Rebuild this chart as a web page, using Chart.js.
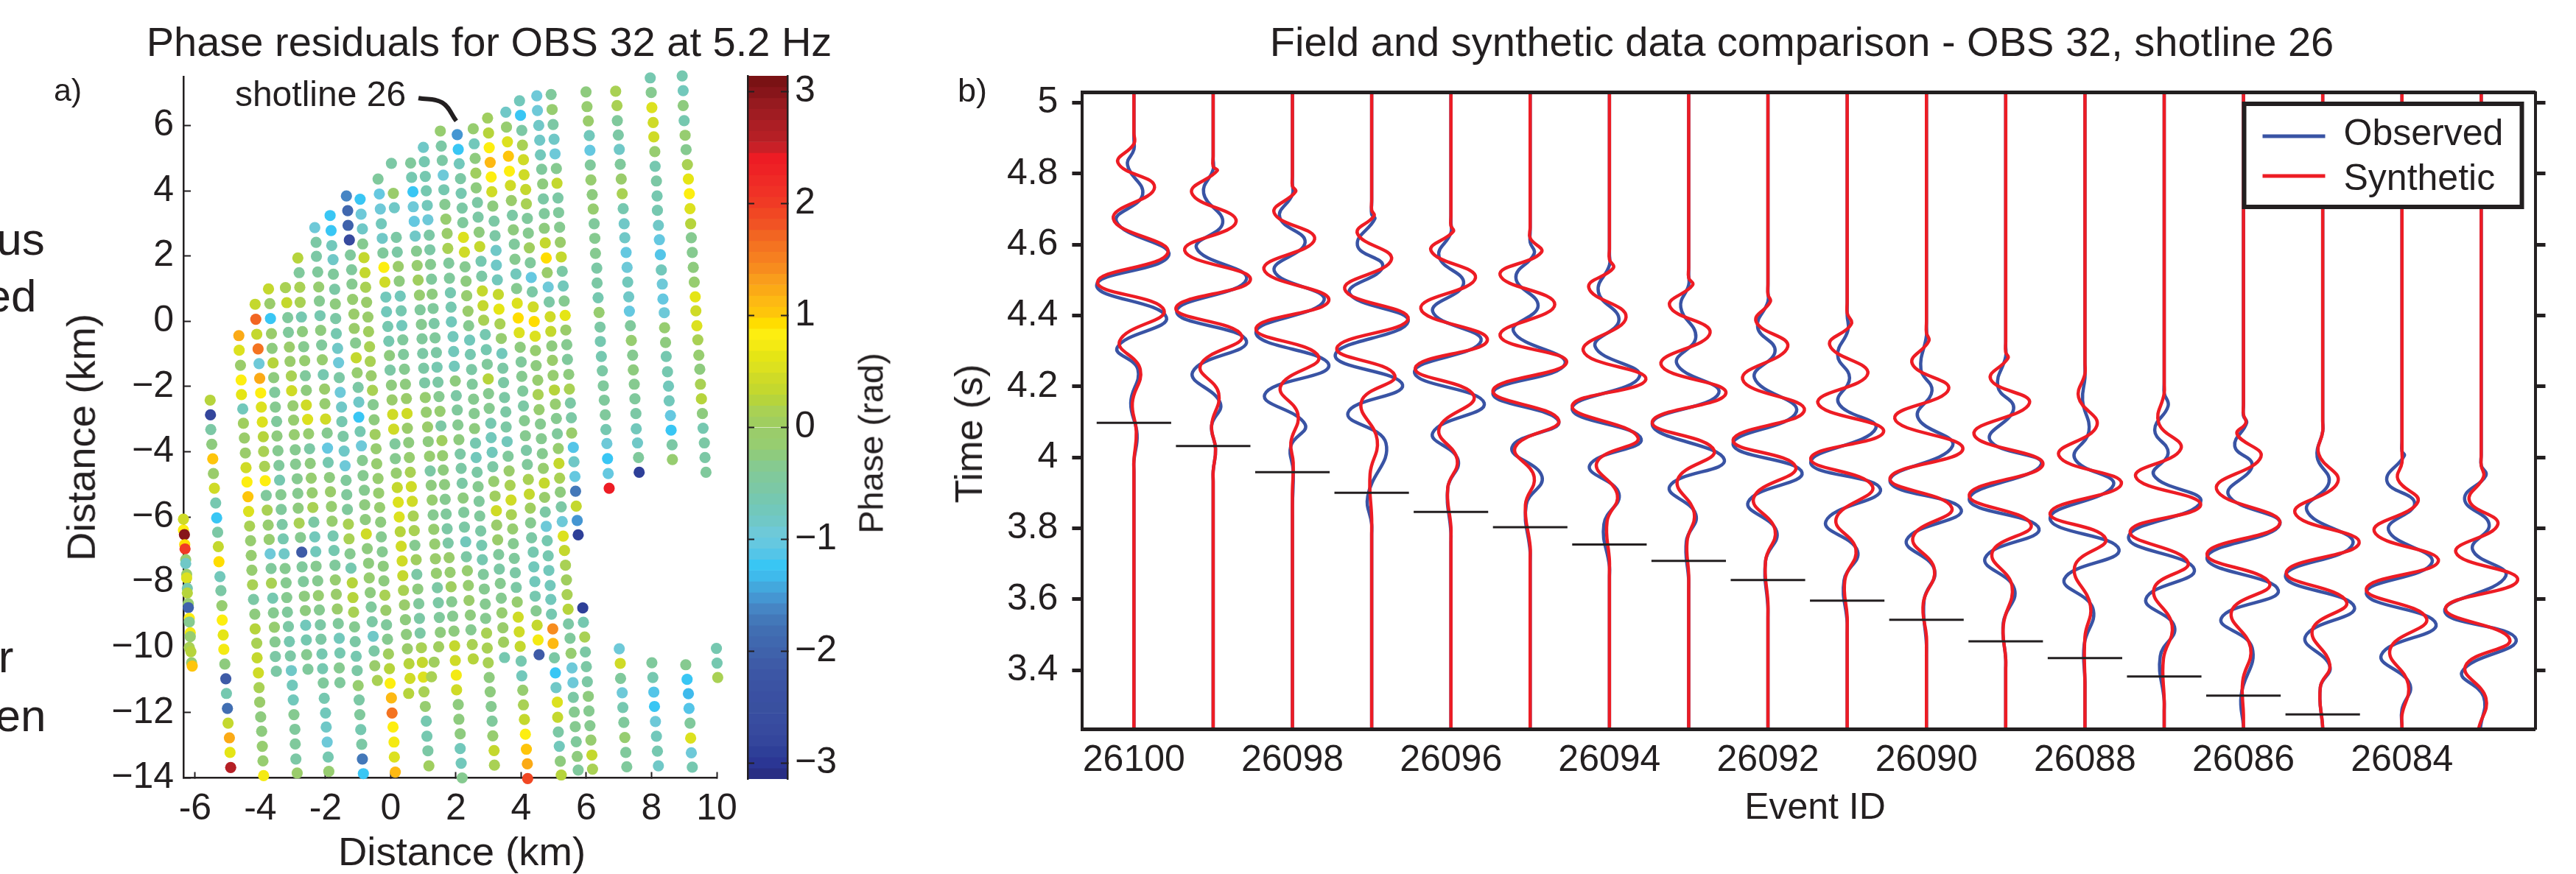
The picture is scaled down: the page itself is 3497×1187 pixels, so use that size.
<!DOCTYPE html>
<html>
<head>
<meta charset="utf-8">
<title>OBS 32 phase residuals</title>
<script src="https://cdn.jsdelivr.net/npm/chart.js@4"></script>
<style>
html, body { margin: 0; padding: 0; background: #fff; overflow: hidden; width: 3497px; height: 1187px; }
canvas { position: absolute; top: 0; }
.txt { position: absolute; font-family: "Liberation Sans", sans-serif; color: #231f20; white-space: nowrap; line-height: 1; }
</style>
</head>
<body>
<canvas id="mapChart" width="1328" height="1187" style="left:0"></canvas>
<canvas id="barChart" width="200" height="1187" style="left:1000px"></canvas>
<canvas id="waveChart" width="2192" height="1187" style="left:1350px"></canvas>
<script>
// panel a: shot points per shotline, [distance x, distance y, phase]
const lineA = [[-6.36,-6.07,.4],[-6.36,-6.40,.85],[-6.33,-6.54,2.95],[-6.32,-6.85,.9],[-6.31,-6.98,2],[-6.29,-7.31,-.1],[-6.29,-7.43,-.85],[-6.26,-7.76,-.05],[-6.26,-7.87,.5],[-6.24,-8.19,-.6],[-6.24,-8.33,.25],[-6.21,-8.66,-.1],[-6.21,-8.78,-2],[-6.18,-9.11,.8],[-6.18,-9.22,-.3],[-6.15,-9.55,.75],[-6.15,-9.67,-.1],[-6.18,-10,.1],[-6.13,-10.13,.25],[-6.11,-10.47,-.15],[-6.09,-10.57,1]];
const lineB = [[-5.54,-2.42,.2],[-5.53,-2.87,-2.75],[-5.52,-3.32,-.5],[-5.49,-3.77,-.25],[-5.46,-4.22,1],[-5.44,-4.67,0],[-5.41,-5.12,.45],[-5.37,-5.57,-.6],[-5.34,-6.03,-1.25],[-5.31,-6.47,-.55],[-5.29,-6.91,.35],[-5.27,-7.37,.95],[-5.24,-7.83,-.7],[-5.21,-8.26,-.5],[-5.18,-8.72,-.1],[-5.17,-9.16,.8],[-5.14,-9.62,.65],[-5.12,-10.06,.75],[-5.09,-10.51,-.2],[-5.06,-10.96,-2.15],[-5.04,-11.41,-.65],[-5.01,-11.87,-1.8],[-4.99,-12.32,.35],[-4.95,-12.77,1.25],[-4.93,-13.22,.65],[-4.91,-13.68,2.6]];
const lineC = [[-4.66,-.44,1.2],[-4.65,-.89,.5],[-4.61,-1.35,0],[-4.59,-1.80,.8],[-4.58,-2.25,.65],[-4.54,-2.69,-.7],[-4.52,-3.13,.05],[-4.49,-3.58,-.05],[-4.46,-4.04,-.05],[-4.44,-4.49,.45],[-4.41,-4.93,.8],[-4.38,-5.38,1.05],[-4.36,-5.83,.55],[-4.33,-6.28,.1],[-4.30,-6.73,-.1],[-4.28,-7.18,-.1],[-4.26,-7.63,-.15],[-4.24,-8.08,.15],[-4.21,-8.53,-.5],[-4.17,-8.98,-.25],[-4.16,-9.43,.25],[-4.11,-9.87,.1],[-4.10,-10.32,.35],[-4.06,-10.78,.4],[-4.04,-11.23,.15],[-4.02,-11.68,-.05],[-3.99,-12.13,-.2],[-3.96,-12.57,-.2],[-3.94,-13.03,-.1],[-3.92,-13.48,-.1],[-3.90,-13.93,.7]];
const lineD = [[-4.16,.52,.3],[-4.14,.06,1.7],[-4.11,-.40,.3],[-4.07,-.85,1.6],[-4.04,-1.30,-.95],[-4.02,-1.75,1.2],[-3.99,-2.20,.8],[-3.97,-2.63,.5],[-3.94,-3.09,.5],[-3.91,-3.54,.25],[-3.90,-3.99,.15],[-3.87,-4.45,.1],[-3.85,-4.89,.8],[-3.82,-5.34,-.45],[-3.79,-5.79,.1],[-3.76,-6.25,-.1],[-3.73,-6.69,-.1],[-3.70,-7.13,-.95],[-3.67,-7.58,-.4],[-3.66,-8.03,.15],[-3.62,-8.49,-.65],[-3.60,-8.94,-.3],[-3.57,-9.38,-.1],[-3.55,-9.83,-.35],[-3.54,-10.28,-.5],[-3.51,-10.73,-.5]];
const lineE = [[-3.75,.99,.3],[-3.71,.54,0],[-3.69,.08,-1.25],[-3.66,-.38,0],[-3.64,-.83,-.2],[-3.61,-1.28,.2],[-3.59,-1.73,-.2],[-3.56,-2.18,-.4],[-3.54,-2.63,-.3],[-3.50,-3.07,-.4],[-3.49,-3.52,-.2],[-3.46,-3.97,-.35],[-3.43,-4.42,-.45],[-3.41,-4.87,-.65],[-3.37,-5.32,-.3],[-3.36,-5.77,-.4],[-3.33,-6.23,-.5],[-3.30,-6.67,-.65],[-3.27,-7.13,-.85],[-3.24,-7.58,-.35],[-3.21,-8.02,-.3],[-3.19,-8.47,-.35],[-3.17,-8.92,-.4],[-3.14,-9.36,-.55],[-3.11,-9.82,-.6],[-3.08,-10.26,-.55],[-3.05,-10.71,-.85],[-3.02,-11.16,-.75],[-2.99,-11.61,-.7],[-2.97,-12.06,-.3],[-2.94,-12.51,-.45],[-2.93,-12.96,-.45],[-2.91,-13.42,-.55],[-2.87,-13.85,0]];
const lineF = [[-3.23,1.03,.1],[-3.19,.57,.3],[-3.16,.11,-.4],[-3.14,-.34,-.4],[-3.11,-.79,0],[-3.09,-1.23,0],[-3.05,-1.68,.1],[-3.04,-2.13,.4],[-3,-2.59,-.1],[-2.98,-3.03,-.1],[-2.96,-3.48,-.15],[-2.93,-3.94,-.35],[-2.92,-4.38,-.35],[-2.87,-4.83,-.3],[-2.85,-5.28,-.3],[-2.84,-5.73,-.25],[-2.81,-6.19,.15],[-2.77,-6.63,-.3],[-2.73,-7.08,-2.1],[-2.72,-7.53,-.45],[-2.68,-7.98,-.45],[-2.65,-8.43,-.2],[-2.62,-8.87,-.25],[-2.61,-9.32,-.7],[-2.59,-9.77,-.6],[-2.58,-10.22,-.35],[-2.54,-10.67,-.45]];
const lineG = [[-2.85,1.94,.2],[-2.81,1.49,-.4],[-2.79,1.04,.15],[-2.78,.58,.1],[-2.74,.13,-.65],[-2.71,-.32,-.25],[-2.67,-.78,-.3],[-2.64,-1.21,-.1],[-2.62,-1.67,-.4],[-2.59,-2.12,-.2],[-2.59,-2.57,.45],[-2.55,-3.01,.5],[-2.52,-3.45,-.1],[-2.49,-3.91,-.5],[-2.47,-4.36,-.2],[-2.44,-4.81,-.1],[-2.41,-5.26,-.1],[-2.39,-5.71,.1],[-2.36,-6.16,-.5],[-2.33,-6.61,-.7],[-2.30,-7.06,-.7],[-2.29,-7.51,-.35],[-2.24,-7.96,-.3],[-2.22,-8.41,-.15],[-2.19,-8.85,-.35],[-2.16,-9.31,-.55],[-2.14,-9.75,-.55],[-2.11,-10.20,-.65],[-2.09,-10.65,-.65],[-2.07,-11.09,-.45],[-2.04,-11.56,-.65],[-2,-12.01,-.7],[-1.98,-12.44,-.8],[-1.95,-12.90,-.95],[-1.92,-13.36,-.65],[-1.90,-13.80,-.15]];
const lineH = [[-2.33,2.87,-.95],[-2.29,2.42,-.5],[-2.28,1.99,-.5],[-2.24,1.51,-.4],[-2.21,1.05,-.1],[-2.19,.62,-.35],[-2.17,.17,-.6],[-2.15,-.28,-.2],[-2.12,-.73,-.45],[-2.10,-1.18,-.1],[-2.07,-1.64,-.65],[-2.03,-2.08,-.05],[-2.02,-2.53,-.15],[-2,-3,.45],[-1.95,-3.43,-.3],[-1.94,-3.89,-1.05],[-1.92,-4.33,-.65],[-1.88,-4.79,-.2],[-1.85,-5.23,-.05],[-1.82,-5.68,-.15],[-1.80,-6.13,-.1],[-1.77,-6.58,-.6],[-1.74,-7.03,-.6],[-1.71,-7.48,-.45],[-1.70,-7.93,-.1],[-1.67,-8.37,-.05],[-1.64,-8.82,-.05],[-1.61,-9.27,-.4],[-1.58,-9.72,-.75],[-1.56,-10.17,-.65],[-1.58,-10.63,-.35],[-1.56,-11.08,-.45]];
const lineI = [[-1.86,3.24,-1.25],[-1.83,2.78,-1.25],[-1.81,2.32,-.7],[-1.77,1.89,-.8],[-1.76,1.44,-.4],[-1.72,.98,-.55],[-1.70,.53,-.25],[-1.69,.08,-.55],[-1.67,-.38,-.6],[-1.63,-.83,-.8],[-1.60,-1.27,-.95],[-1.58,-1.73,-.5],[-1.55,-2.18,-.9],[-1.51,-2.63,-.85],[-1.50,-3.08,-.6],[-1.46,-3.53,-.5],[-1.43,-3.98,-.85],[-1.40,-4.43,-.95],[-1.37,-4.88,-.45],[-1.35,-5.32,-.45],[-1.33,-5.77,-.45],[-1.30,-6.22,.15],[-1.28,-6.67,.1],[-1.25,-7.13,-.35],[-1.22,-7.57,-.6],[-1.18,-8.02,.25],[-1.16,-8.47,.25],[-1.14,-8.92,.1],[-1.11,-9.37,-.35],[-1.09,-9.82,-.55],[-1.06,-10.27,-.65],[-1.03,-10.71,-.5],[-1,-11.17,-.1],[-.97,-11.61,-.55],[-.95,-12.06,-.45],[-.92,-12.52,-.6],[-.89,-12.97,-.55],[-.87,-13.42,-1.7],[-.84,-13.87,-1.25]];
const lineJ = [[-1.36,3.84,-1.6],[-1.32,3.39,-1.9],[-1.31,2.94,-2],[-1.27,2.49,-2.7],[-1.24,2.03,-.45],[-1.20,1.58,-.45],[-1.19,1.14,-.35],[-1.17,.67,-.1],[-1.13,.22,-.05],[-1.12,-.22,-.05],[-1.08,-.67,-.3],[-1.06,-1.12,.3],[-1.03,-1.58,-.1],[-1,-2.03,-.55],[-.98,-2.48,-.8],[-.98,-2.94,-1.2],[-.94,-3.38,-.65],[-.90,-3.82,-.9],[-.87,-4.27,-.35],[-.85,-4.73,-.35],[-.81,-5.18,-.35],[-.80,-5.63,-.2],[-.78,-6.08,-.2],[-.75,-6.52,.45],[-.72,-6.97,-.2],[-.68,-7.42,-.2],[-.66,-7.87,-.15],[-.63,-8.32,-.2],[-.60,-8.76,-.45],[-.57,-9.21,-.55],[-.54,-9.66,-.8],[-.51,-10.11,-.55],[-.49,-10.56,-.05],[-.41,-11.01,.1]];
const lineK = [[-.94,3.74,-1.25],[-.91,3.28,-.9],[-.87,2.83,-.8],[-.86,2.37,-.35],[-.82,1.95,.3],[-.79,1.49,.3],[-.77,1.04,.1],[-.74,.58,-.05],[-.70,.13,-.05],[-.68,-.32,.05],[-.65,-.78,.15],[-.63,-1.23,.1],[-.60,-1.67,-.05],[-.56,-2.12,.1],[-.54,-2.56,-.3],[-.51,-3.02,-.2],[-.48,-3.47,.05],[-.45,-3.91,-.1],[-.43,-4.37,-.15],[-.39,-4.82,-.15],[-.37,-5.27,-.15],[-.34,-5.71,-.1],[-.31,-6.16,-.2],[-.29,-6.61,-.3],[-.26,-7.07,-.35],[-.23,-7.51,-.25],[-.21,-7.96,-.2],[-.18,-8.40,.1],[-.15,-8.86,-.05],[-.13,-9.31,-.4],[-.10,-9.75,-.3],[-.07,-10.20,.05],[-.04,-10.65,.25],[-.02,-11.10,.85],[.02,-11.55,1.1],[.04,-12.01,1.6],[.07,-12.44,.85],[.10,-12.90,.7],[.11,-13.36,.5],[.14,-13.82,1.15]];
const lineL = [[-.39,4.36,-.4],[-.35,3.90,-1],[-.32,3.44,-.95],[-.29,2.99,-.7],[-.26,2.54,-.85],[-.24,2.09,-.4],[-.21,1.65,.8],[-.18,1.20,.45],[-.15,.74,-.7],[-.13,.29,-.7],[-.09,-.16,-.65],[-.06,-.61,-.6],[-.04,-1.05,-.2],[-.02,-1.50,-.5],[.02,-1.96,-.25],[.04,-2.41,0],[.06,-2.86,.45],[.09,-3.31,.4],[.13,-3.76,-.4],[.14,-4.21,-.3],[.17,-4.66,-.1],[.20,-5.10,.3],[.23,-5.55,.5],[.26,-6,.5],[.29,-6.45,.2],[.32,-6.90,.45],[.35,-7.35,.45],[.37,-7.80,.35],[.39,-8.25,.1],[.42,-8.70,0],[.45,-9.15,-.2],[.48,-9.60,-.25],[.51,-10.04,0],[.56,-10.50,.25],[.59,-10.95,.4],[.55,-11.41,.2]];
const lineM = [[.02,4.84,-.5],[.08,3.92,-.05],[.11,3.48,-.8],[.17,2.57,-.5],[.20,2.12,-.5],[.23,1.68,0],[.26,1.23,-.25],[.29,.77,-.7],[.32,.32,-.65],[.34,-.13,-.7],[.37,-.57,-.45],[.39,-1.02,-.45],[.42,-1.47,-.35],[.45,-1.93,-.25],[.48,-2.37,0],[.50,-2.83,.45],[.51,-3.28,0],[.55,-3.72,-.25],[.57,-4.18,-.1],[.60,-4.63,.1],[.63,-5.07,.4],[.66,-5.52,.4],[.69,-5.97,.15],[.72,-6.42,.1],[.74,-6.87,-.3],[.78,-7.31,.05],[.80,-7.76,-.5],[.83,-8.21,-.2],[.86,-8.66,-.4],[.88,-9.11,-.5],[.90,-9.56,-.5],[.94,-10.01,.1],[.97,-10.46,.3],[1,-10.91,.5],[1.02,-11.36,.1],[1.06,-11.81,-.15],[1.09,-12.26,-.6],[1.11,-12.72,-.6],[1.14,-13.17,-.55],[1.17,-13.63,.05]];
const lineN = [[.61,4.85,-.4],[.64,4.41,-.6],[.68,3.97,-1.25],[.69,3.51,-.9],[.72,3.06,-1.05],[.75,2.61,-.85],[.79,2.15,-.35],[.81,1.71,-.15],[.84,1.26,.05],[.88,.80,-.1],[.90,.35,-.45],[.94,-.10,-.35],[.96,-.54,-.4],[.98,-.99,-.5],[1.01,-1.44,-.55],[1.04,-1.89,-.55],[1.06,-2.34,-.15],[1.09,-2.79,-.1],[1.13,-3.24,-.05],[1.15,-3.69,-.25],[1.19,-4.14,-.1],[1.21,-4.59,-.5],[1.24,-5.03,-.2],[1.27,-5.48,-.15],[1.30,-5.94,-.35],[1.32,-6.38,-.15],[1.35,-6.83,-.1],[1.37,-7.28,-.05],[1.40,-7.73,-.1],[1.43,-8.17,-.5],[1.46,-8.63,-.55],[1.49,-9.08,-.4],[1.52,-9.54,-.2],[1.47,-9.98,.05],[1.33,-10.45,.05],[1.25,-10.90,.1]];
const lineO = [[1,5.33,-.85],[1.03,4.89,-.6],[1.06,4.44,-.6],[1.09,4,-.6],[1.12,3.55,-.75],[1.14,3.11,-.9],[1.18,2.64,-.55],[1.20,2.19,-.5],[1.22,1.74,-.3],[1.25,1.29,-.4],[1.27,.83,-.2],[1.30,.39,-.45],[1.33,-.07,-.55],[1.36,-.51,-.45],[1.40,-.96,-.5],[1.42,-1.41,-.65],[1.45,-1.87,-.55],[1.48,-2.31,-.3],[1.51,-2.76,-.15],[1.54,-3.21,-.5],[1.57,-3.66,.05],[1.59,-4.12,-.15],[1.61,-4.56,-.25],[1.65,-5.01,-.25],[1.67,-5.46,-.3],[1.70,-5.91,-.45],[1.73,-6.36,-.5],[1.76,-6.80,-.55],[1.79,-7.25,-.05],[1.82,-7.70,-.1],[1.85,-8.14,.05],[1.87,-8.60,-.3],[1.90,-9.04,-.35],[1.94,-9.50,-.2],[1.96,-9.95,.35],[1.98,-10.40,.45],[2.01,-10.85,.75],[2.02,-11.30,.45],[2.07,-11.75,-.2],[2.09,-12.20,-.2],[2.13,-12.65,-.2],[2.13,-13.10,-.7],[2.16,-13.55,-.75],[2.19,-14,-.3]];
const lineP = [[1.52,5.83,-.1],[1.55,5.37,-.5],[1.58,4.93,-.55],[1.61,4.48,-.95],[1.63,4.03,-.65],[1.66,3.58,-.3],[1.69,3.13,-.1],[1.73,2.69,-.05],[1.75,2.23,.1],[1.78,1.78,-.4],[1.80,1.32,-.45],[1.83,.87,-.6],[1.85,.43,-.65],[1.86,-.02,-.7],[1.91,-.47,-.75],[1.93,-.93,-.75],[1.95,-1.38,-.7],[1.98,-1.83,-.2],[2.01,-2.28,-.5],[2.04,-2.72,-.45],[2.06,-3.18,-.35],[2.09,-3.63,-.2],[2.13,-4.07,-.55],[2.16,-4.51,-.55],[2.19,-4.97,-.5],[2.22,-5.42,-.25],[2.24,-5.86,-.45],[2.26,-6.31,-.55],[2.30,-6.76,-.7],[2.32,-7.22,-.5],[2.35,-7.65,-.15],[2.38,-8.10,-.1],[2.40,-8.56,-.05],[2.44,-9.01,-.2],[2.46,-9.46,-.3],[2.50,-9.91,.15],[2.53,-10.35,.25]];
const lineQ = [[2.04,5.72,-1.55],[2.07,5.27,-1.2],[2.10,4.83,-.7],[2.14,4.37,-.55],[2.16,3.92,-.6],[2.19,3.47,-.55],[2.21,3.02,-.45],[2.23,2.57,.5],[2.26,2.12,.4],[2.28,1.67,-.35],[2.31,1.23,-.25],[2.33,.78,-.15],[2.37,.31,-.05],[2.39,-.14,-.35],[2.42,-.58,-.7],[2.44,-1.02,-.6],[2.48,-1.48,-.55],[2.50,-1.93,-.4],[2.54,-2.39,-.3],[2.56,-2.83,-.3],[2.57,-3.29,-.25],[2.60,-3.74,-.6],[2.62,-4.18,-.7],[2.65,-4.63,-.5],[2.68,-5.07,-.3],[2.71,-5.52,-.4],[2.73,-5.97,-.45],[2.76,-6.43,-.55],[2.79,-6.87,-.6],[2.81,-7.31,-.6],[2.84,-7.76,-.4],[2.87,-8.21,-.3],[2.90,-8.67,-.3],[2.91,-9.11,-.3],[2.94,-9.56,.15],[2.96,-10.02,.1],[2.99,-10.47,.1],[3.02,-10.92,-.2],[3.05,-11.36,-.25],[3.08,-11.81,-.3],[3.11,-12.26,-.4],[3.13,-12.71,-.15],[3.17,-13.16,.35],[3.18,-13.61,.15]];
const lineR = [[2.53,5.90,-.1],[2.56,5.44,-.7],[2.59,4.99,-.2],[2.61,4.54,.05],[2.62,4.09,-.25],[2.66,3.64,-.55],[2.68,3.19,-.5],[2.71,2.73,-.2],[2.73,2.29,.35],[2.77,1.84,-.6],[2.79,1.38,-.5],[2.81,.93,.3],[2.83,.48,.35],[2.85,.03,.15],[2.90,-.41,-.65],[2.93,-.87,-.6],[2.96,-1.32,-.4],[2.99,-1.77,.2],[3,-2.22,-.3],[3.02,-2.67,-.35],[3.07,-3.13,-.65],[3.08,-3.57,-.7],[3.11,-4.02,-.75],[3.13,-4.46,-.5],[3.16,-4.91,-.15],[3.20,-5.36,.05],[3.24,-5.81,.45],[3.25,-6.25,-.05],[3.28,-6.70,-.05],[3.31,-7.15,-.45],[3.33,-7.60,-.5],[3.36,-8.04,-.3],[3.39,-8.49,-.3],[3.41,-8.94,-.15],[3.44,-9.40,0],[3.46,-9.84,.05],[3.49,-10.31,-.6]];
const lineS = [[2.97,6.23,.05],[3,5.77,.25],[3.02,5.32,.8],[3.05,4.87,1.15],[3.08,4.42,.8],[3.10,3.97,.45],[3.13,3.53,-.25],[3.17,3.07,-.5],[3.20,2.62,-.55],[3.23,2.17,-.8],[3.24,1.72,-.8],[3.27,1.27,-.75],[3.30,.82,.35],[3.32,.37,.6],[3.35,-.08,.15],[3.39,-.53,-.1],[3.41,-.99,-.7],[3.44,-1.44,-.5],[3.46,-1.88,-.55],[3.49,-2.34,-.5],[3.53,-2.78,-.55],[3.54,-3.24,-.55],[3.57,-3.69,-.7],[3.60,-4.14,-.4],[3.63,-4.59,-.05],[3.66,-5.03,.15],[3.69,-5.48,.45],[3.70,-5.93,.1],[3.74,-6.37,-.15],[3.76,-6.82,-.35],[3.79,-7.27,-.45],[3.82,-7.71,-.5],[3.85,-8.16,-.5],[3.88,-8.61,-.1],[3.91,-9.07,.4],[3.94,-9.52,.4],[3.97,-9.97,.3],[4,-10.42,-.65],[4.02,-10.87,-.7],[4.05,-11.31,-.15],[4.07,-11.76,.1],[4.10,-12.21,.35],[4.13,-12.66,.8],[4.16,-13.12,1],[4.19,-13.57,1.2],[4.20,-14.02,1.95]];
const lineT = [[3.53,6.41,-.85],[3.55,5.95,-.1],[3.58,5.50,.55],[3.61,5.06,1.05],[3.64,4.60,.8],[3.67,4.16,.4],[3.70,3.70,-.05],[3.73,3.25,-.55],[3.76,2.80,-.25],[3.79,2.36,-.45],[3.81,1.90,-.3],[3.84,1.45,-.75],[3.86,1,-.3],[3.88,.55,.55],[3.91,.10,.95],[3.94,-.35,.5],[3.97,-.80,-.2],[4,-1.25,-.4],[4.02,-1.69,-.3],[4.05,-2.14,-.45],[4.07,-2.60,-.5],[4.10,-3.05,-.3],[4.13,-3.51,-.35],[4.16,-3.96,-.5],[4.19,-4.39,-.45],[4.22,-4.85,.1],[4.25,-5.30,.3],[4.28,-5.73,.05],[4.29,-6.18,-.3],[4.32,-6.64,-.5],[4.37,-7.08,-.65],[4.39,-7.53,-.75],[4.42,-7.98,-.7],[4.43,-8.43,-.6],[4.46,-8.88,-.35],[4.49,-9.32,.3],[4.52,-9.77,.75],[4.55,-10.22,-2.1]];
const lineU = [[3.95,6.76,-.7],[3.98,6.31,-1.25],[4.02,5.85,-.5],[4.04,5.40,.1],[4.07,4.95,.45],[4.09,4.49,.4],[4.14,4.04,.3],[4.16,3.60,.1],[4.19,3.15,-.4],[4.22,2.70,-.3],[4.25,2.25,.05],[4.28,1.79,-.4],[4.31,1.34,-1],[4.34,.90,-.55],[4.37,.44,.4],[4.40,-.01,.95],[4.43,-.46,.55],[4.44,-.90,-.1],[4.46,-1.36,-.2],[4.51,-1.81,-.15],[4.52,-2.25,.1],[4.55,-2.71,-.1],[4.59,-3.15,-.35],[4.62,-3.60,-.3],[4.65,-4.06,-.3],[4.68,-4.51,-.1],[4.71,-4.96,.35],[4.72,-5.40,-.05],[4.74,-5.85,-.5],[4.77,-6.29,-.9],[4.80,-6.73,-.65],[4.83,-7.19,-.65],[4.85,-7.64,-.75],[4.89,-8.10,-.7],[4.91,-8.53,-.7],[4.93,-8.98,-.65],[4.97,-9.43,1.4],[4.98,-9.88,1.1],[5.02,-10.32,-.5],[5.05,-10.78,-1.2],[5.07,-11.23,-.85],[5.11,-11.68,.55],[5.12,-12.14,.35],[5.14,-12.59,-.55],[5.17,-13.03,-.7],[5.20,-13.49,-.2],[5.23,-13.91,.2]];
const lineV = [[4.48,6.91,-.95],[4.50,6.46,-.9],[4.54,6,-.8],[4.57,5.55,-.8],[4.59,5.10,-.7],[4.63,4.66,-.45],[4.66,4.21,-.2],[4.68,3.75,-.5],[4.71,3.30,-.45],[4.71,2.85,-.2],[4.74,2.40,.3],[4.77,1.94,.95],[4.80,1.49,-.05],[4.83,1.05,-.95],[4.86,.59,-.5],[4.89,.14,.4],[4.91,-.31,.35],[4.94,-.76,-.2],[4.96,-1.20,-.05],[4.98,-1.66,-.1],[5.02,-2.11,.2],[5.05,-2.54,-.1],[5.08,-2.98,-.35],[5.11,-3.45,-.4],[5.14,-3.90,-.1],[5.16,-4.36,.3],[5.18,-4.81,.1],[5.20,-5.24,-.25],[5.23,-5.69,-.55],[5.26,-6.14,-.95],[5.29,-6.59,.55],[5.33,-7.03,.3],[5.36,-7.48,.15],[5.39,-7.93,.05],[5.41,-8.38,.15],[5.44,-8.83,.2],[5.45,-9.28,-.5],[5.50,-9.72,-.45],[5.53,-10.18,-.15],[5.56,-10.63,-.9],[5.59,-11.08,-.95],[5.60,-11.53,-.55],[5.63,-11.98,-.3],[5.66,-12.43,-.35],[5.69,-12.89,-.4],[5.72,-13.34,-.25],[5.75,-13.76,-.4]];
const lineW = [[4.92,6.95,-.4],[4.95,6.49,-.15],[4.98,6.03,-.55],[5.01,5.58,-.85],[5.04,5.13,-.9],[5.08,4.68,-.35],[5.10,4.23,.35],[5.13,3.78,-.5],[5.15,3.33,-.45],[5.18,2.88,-.3],[5.20,2.42,-.05],[5.23,1.97,.35],[5.26,1.53,-.5],[5.29,1.08,-.7],[5.32,.62,-.3],[5.35,.18,.6],[5.37,-.27,0],[5.40,-.72,-.35],[5.42,-1.17,-.4],[5.46,-1.63,-.2],[5.48,-2.08,.1],[5.51,-2.51,-.5],[5.54,-2.96,-.55],[5.55,-3.43,-.05],[5.60,-3.87,-1.1],[5.62,-4.31,-.85],[5.65,-4.76,-1],[5.67,-5.21,-1.75],[5.69,-5.67,.3],[5.72,-6.11,-1.5],[5.75,-6.55,-2.9],[5.89,-8.79,-2.9],[5.91,-9.23,-.6],[5.95,-9.68,.15],[5.97,-10.14,-.5],[6,-10.59,-.5],[6.03,-11.05,-.55],[6.06,-11.50,-.2],[6.08,-11.95,-.3],[6.11,-12.40,-.35],[6.14,-12.84,-.1],[6.17,-13.30,.3],[6.19,-13.73,.1]];
const lineX = [[5.99,7.03,-.2],[6.02,6.58,-.15],[6.06,6.14,0],[6.09,5.69,-.75],[6.11,5.24,-1],[6.12,4.79,-.4],[6.14,4.33,-.1],[6.18,3.88,-.2],[6.21,3.44,-.15],[6.24,2.99,-.4],[6.26,2.54,-.35],[6.28,2.08,-.35],[6.32,1.63,-.5],[6.33,1.17,-.55],[6.36,.72,-.65],[6.39,.27,-.1],[6.42,-.18,-.5],[6.43,-.62,-.6],[6.46,-1.08,-.65],[6.49,-1.52,-.55],[6.52,-1.98,-.45],[6.55,-2.42,-.4],[6.58,-2.87,-.45],[6.60,-3.32,-.6],[6.63,-3.75,-.95],[6.65,-4.21,-1.25],[6.67,-4.67,-1.05],[6.70,-5.12,2.4],[7.01,-10.04,-.95],[7.04,-10.49,.45],[7.05,-10.95,-.4],[7.10,-11.39,-.9],[7.12,-11.84,-.6],[7.15,-12.30,-.45],[7.18,-12.76,-.1],[7.21,-13.22,-.4],[7.24,-13.66,-.45]];
const lineY = [[6.90,7.05,.15],[6.94,6.61,.1],[6.95,6.15,-.45],[6.98,5.71,-.5],[7.01,5.27,-.8],[7.04,4.81,-.45],[7.07,4.36,-.05],[7.10,3.91,.1],[7.13,3.45,-.6],[7.16,2.99,-.8],[7.18,2.56,-.85],[7.22,2.11,-1.05],[7.25,1.65,-.9],[7.27,1.20,-.7],[7.30,.75,-.8],[7.32,.31,-1],[7.35,-.14,-.4],[7.38,-.59,-.1],[7.42,-1.04,-.3],[7.44,-1.49,-.2],[7.47,-1.93,-.35],[7.49,-2.38,-.4],[7.52,-2.83,-.5],[7.53,-3.30,-.75],[7.57,-3.73,-.85],[7.60,-4.18,-.4],[7.62,-4.63,-2.9],[8.01,-10.47,-.45],[8.04,-10.92,-.65],[8.07,-11.37,-1.1],[8.09,-11.81,-1.25],[8.12,-12.27,-.9],[8.15,-12.72,-.75],[8.18,-13.18,-.6],[8.21,-13.63,-.85]];
const lineZ = [[7.96,7.46,-.6],[7.99,7.01,-.3],[8.01,6.55,.55],[8.05,6.09,.4],[8.07,5.65,.4],[8.10,5.20,-.1],[8.11,4.75,-.6],[8.15,4.30,-.55],[8.17,3.84,-.6],[8.18,3.40,-.65],[8.21,2.94,-.8],[8.24,2.50,-1.05],[8.27,2.04,-1.1],[8.30,1.57,-.75],[8.33,1.14,-.95],[8.35,.68,-1],[8.39,.26,-.95],[8.40,-.20,-.1],[8.43,-.65,-.2],[8.45,-1.08,-.6],[8.49,-1.55,-.65],[8.52,-1.99,-.7],[8.54,-2.44,-.7],[8.58,-2.89,-1.05],[8.60,-3.34,-1.25],[8.63,-3.79,-.55],[8.64,-4.24,-.15],[9.05,-10.53,-.3],[9.09,-10.98,-1.25],[9.13,-11.42,-1.35],[9.15,-11.87,-1.1],[9.18,-12.32,-.45],[9.20,-12.78,.55],[9.22,-13.23,-.9],[9.25,-13.67,-.65]];
const lineAA = [[8.94,7.52,-.6],[8.97,7.07,-.75],[8.97,6.61,-.2],[9,6.15,-.6],[9.03,5.70,-.1],[9.06,5.26,-.3],[9.10,4.80,.15],[9.13,4.36,.6],[9.16,3.91,.8],[9.18,3.45,.5],[9.20,2.99,.2],[9.22,2.56,-.3],[9.25,2.11,-.35],[9.28,1.65,-.2],[9.31,1.20,-.1],[9.34,.75,.6],[9.36,.32,.45],[9.39,-.14,.5],[9.42,-.57,.1],[9.45,-1.04,-.1],[9.48,-1.47,-.2],[9.50,-1.93,.15],[9.53,-2.38,.2],[9.56,-2.83,-.2],[9.58,-3.28,-.65],[9.62,-3.73,-.55],[9.64,-4.18,-.5],[9.67,-4.63,-.4],[9.99,-10.03,-.6],[10.01,-10.48,-.65],[10.03,-10.92,.1]];

const mapXTicks = [-6,-4,-2,0,2,4,6,8,10];
const mapYTicks = [-14,-12,-10,-8,-6,-4,-2,0,2,4,6];
const leaderX = [0.85,1.58,2.01];
const leaderY = [6.84,6.70,6.14];

// colour bar, top band (phase +pi) to bottom band (phase -pi)
const phaseTicks = [-3,-2,-1,0,1,2,3];
const bandColors = ["#7a1214","#87151a","#961a1f","#a01c22","#ac1e24","#b51f25","#c92027","#ed1c24","#ee2225","#ef2a26","#f03126","#f03a25","#f14723","#f15324","#f26522","#f47321","#f67f20","#f78c1e","#f99d1c","#fbaa16","#fdb913","#fec50b","#ffdd00","#fdee10","#f4ea13","#e5e515","#dce11f","#cfdb27","#c4d82e","#b6d43c","#a9d154","#a0ce5f","#9acc6b","#97cd70","#8ecb7e","#86ca90","#80c99c","#7cc8a5","#76c8b0","#72c8bb","#70c8c7","#6ec9d8","#65c8e0","#54c5e8","#39c6f4","#3fbaec","#43a8dd","#4596d2","#4685c4","#4378b9","#416eb2","#4068af","#3f62ab","#3e5ba7","#3c56a5","#3b53a3","#3a50a2","#39509f","#384da0","#374a9e","#34469c","#2e3f98","#2b3694","#292e84"];

// panel b: event ids, wiggle time knots and amplitudes (in trace spacings)
const eventIds = [26100,26099,26098,26097,26096,26095,26094,26093,26092,26091,26090,26089,26088,26087,26086,26085,26084,26083];
const eventTicks = [26100,26098,26096,26094,26092,26090,26088,26086,26084];
const timeTicks = [3.4,3.6,3.8,4,4.2,4.4,4.6,4.8,5];
const pickTimes = [4.097,4.032,3.958,3.9,3.846,3.803,3.754,3.708,3.654,3.596,3.542,3.481,3.434,3.382,3.328,3.275];

const obsTime = [
  [4.868,4.824,4.741,4.665,4.570,4.485,4.395,4.310,4.248,4.153,4.065,3.99],
  [4.812,4.745,4.661,4.590,4.502,4.411,4.328,4.240,4.153,4.089,4.024,3.961],
  [4.741,4.677,4.606,4.526,4.443,4.351,4.260,4.177,4.093,4.032,3.961,3.866],
  [4.685,4.673,4.598,4.538,4.463,4.383,4.288,4.204,4.125,4.040,3.890,3.811],
  [4.633,4.566,4.490,4.411,4.328,4.240,4.153,4.069,3.993,3.914,3.787],
  [4.606,4.574,4.506,4.427,4.355,4.264,4.181,4.101,4.028,3.945,3.866,3.732],
  [4.542,4.467,4.387,4.312,4.228,4.137,4.052,3.977,3.898,3.811,3.692],
  [4.486,4.423,4.339,4.264,4.181,4.093,3.993,3.918,3.839,3.763,3.653],
  [4.439,4.367,4.300,4.224,4.129,4.037,3.957,3.874,3.791,3.708,3.574],
  [4.399,4.359,4.288,4.224,4.153,4.081,3.985,3.910,3.819,3.736,3.653,3.534],
  [4.343,4.248,4.188,4.113,4.032,3.933,3.852,3.767,3.684,3.597,3.471],
  [4.284,4.200,4.137,4.049,3.981,3.882,3.799,3.716,3.629,3.534,3.431],
  [4.224,4.161,4.073,3.997,3.922,3.827,3.740,3.657,3.574,3.471,3.368],
  [4.181,4.145,4.077,4.013,3.949,3.874,3.775,3.684,3.601,3.522,3.439,3.313],
  [4.117,4.097,4.032,3.977,3.894,3.811,3.716,3.625,3.546,3.463,3.328,3.241],
  [4.073,4.001,3.930,3.850,3.756,3.665,3.578,3.494,3.411,3.352,3.237],
  [4.017,4.005,3.933,3.870,3.795,3.704,3.617,3.530,3.443,3.360,3.289,3.237],
  [3.977,3.949,3.882,3.811,3.740,3.665,3.566,3.487,3.396,3.325,3.237]
];
const obsAmp = [
  [0,-.08,.11,-.22,.44,-.47,.41,-.21,.05,-.04,.04,0],
  [0,-.12,.12,-.21,.42,-.46,.42,-.26,.09,-.02,.03,0],
  [0,-.16,.16,-.23,.40,-.46,.46,-.35,.16,-.02,.01,0],
  [0,.04,-.18,.14,-.28,.46,-.46,.39,-.30,.18,-.05,0],
  [0,-.15,.16,-.23,.38,-.46,.42,-.23,.09,-.04,0],
  [0,.05,-.18,.10,-.21,.44,-.47,.36,-.23,.15,-.05,0],
  [0,-.14,.12,-.18,.38,-.47,.40,-.25,.12,-.07,0],
  [0,-.10,.09,-.15,.38,-.46,.45,-.24,.09,-.03,0],
  [0,-.13,.09,-.17,.36,-.44,.43,-.25,.11,-.03,0],
  [0,.01,-.12,.03,-.11,.36,-.46,.42,-.27,.13,-.04,0],
  [0,-.07,.07,-.11,.33,-.46,.44,-.25,.10,-.03,0],
  [0,-.10,.10,-.20,.45,-.46,.42,-.26,.11,-.03,0],
  [0,-.03,.05,-.13,.36,-.44,.43,-.26,.10,-.01,0],
  [0,.05,-.12,.05,-.13,.46,-.45,.38,-.23,.13,-.05,0],
  [0,.04,-.11,.11,-.19,.46,-.46,.44,-.28,.11,-.03,0],
  [0,-.07,.08,-.20,.38,-.47,.40,-.22,.09,-.03,0],
  [0,.03,-.19,.16,-.17,.38,-.45,.43,-.26,.10,0,0],
  [0,.06,-.21,.10,-.11,.31,-.46,.44,-.24,.03,-.01]
];
const synTime = [
  [4.884,4.830,4.761,4.673,4.578,4.494,4.415,4.328,4.248,4.153,4.073,3.99],
  [4.820,4.808,4.745,4.665,4.583,4.501,4.421,4.343,4.260,4.180,4.089,4.024,3.961],
  [4.765,4.749,4.689,4.615,4.530,4.443,4.363,4.284,4.200,4.121,4.041,3.985,3.906],
  [4.697,4.681,4.631,4.558,4.474,4.391,4.308,4.232,4.157,4.049,3.953,3.827],
  [4.653,4.637,4.582,4.506,4.419,4.331,4.252,4.173,4.081,3.993,3.914,3.803],
  [4.618,4.578,4.514,4.431,4.343,4.268,4.188,4.105,4.028,3.945,3.866,3.748],
  [4.558,4.534,4.478,4.395,4.300,4.220,4.145,4.056,3.985,3.894,3.819,3.708],
  [4.506,4.486,4.427,4.351,4.262,4.181,4.100,4.020,3.937,3.843,3.763,3.669],
  [4.459,4.439,4.383,4.312,4.220,4.133,4.049,3.973,3.886,3.795,3.708,3.589],
  [4.407,4.375,4.316,4.236,4.153,4.073,3.997,3.918,3.827,3.740,3.653,3.550],
  [4.351,4.328,4.264,4.192,4.109,4.024,3.941,3.858,3.775,3.684,3.589,3.494],
  [4.296,4.280,4.220,4.153,4.065,3.981,3.894,3.811,3.732,3.637,3.526,3.431],
  [4.236,4.169,4.089,4.005,3.926,3.843,3.771,3.692,3.581,3.494,3.352],
  [4.181,4.097,4.024,3.945,3.866,3.791,3.704,3.629,3.526,3.431,3.313],
  [4.121,4.097,4.065,4.001,3.910,3.815,3.728,3.645,3.566,3.463,3.368,3.273],
  [4.073,4.009,3.930,3.843,3.759,3.676,3.593,3.514,3.415,3.352,3.237],
  [3.985,3.937,3.874,3.791,3.708,3.629,3.546,3.459,3.360,3.273],
  [3.977,3.945,3.878,3.811,3.732,3.654,3.574,3.487,3.411,3.320,3.237]
];
const synAmp = [
  [0,-.20,.26,-.26,.43,-.46,.38,-.18,.08,-.02,.03,0],
  [0,.05,-.27,.29,-.36,.47,-.47,.36,-.16,.07,-.02,.03,0],
  [0,.04,-.23,.28,-.36,.46,-.46,.33,-.15,.07,-.02,.01,0],
  [0,.03,-.18,.25,-.34,.46,-.44,.29,-.13,.07,-.02,0],
  [0,.03,-.25,.31,-.38,.46,-.45,.29,-.15,.08,-.04,0],
  [0,.14,-.38,.31,-.38,.46,-.47,.36,-.19,.05,-.06,0],
  [0,.05,-.26,.21,-.33,.46,-.47,.36,-.16,.10,-.03,0],
  [0,.05,-.24,.27,-.35,.47,-.46,.32,-.14,.07,-.02,0],
  [0,.03,-.15,.25,-.32,.46,-.44,.35,-.18,.09,-.03,0],
  [0,.05,-.22,.26,-.37,.46,-.46,.32,-.14,.11,-.03,0],
  [0,.03,-.18,.28,-.40,.46,-.46,.32,-.17,.10,-.04,0],
  [0,.03,-.19,.30,-.40,.47,-.46,.32,-.17,.08,-.03,0],
  [0,-.08,.15,-.33,.46,-.44,.26,-.13,.07,0,0],
  [0,-.07,.21,-.36,.46,-.43,.30,-.13,.10,-.01,0],
  [0,.03,-.08,.22,-.34,.46,-.46,.33,-.15,.09,-.01,0],
  [0,-.05,.19,-.35,.46,-.46,.30,-.13,.09,-.03,0],
  [0,-.05,.20,-.35,.46,-.45,.31,-.15,.08,0],
  [0,.03,-.15,.21,-.32,.46,-.45,.36,-.20,.06,-.03]
];

const legendLabels = ["Observed","Synthetic"];
const inkColor = "#231f20";
const obsColor = "#3953a4";
const synColor = "#ed1c24";
const fontName = '"Liberation Sans", sans-serif';

Chart.defaults.font.family = fontName;
Chart.defaults.color = inkColor;
Chart.defaults.animation = false;
Chart.defaults.events = [];
Chart.defaults.plugins.legend.display = false;
Chart.defaults.plugins.tooltip.enabled = false;

function colorForPhase(p) {
  let i = Math.floor((Math.PI - p) / (2 * Math.PI / bandColors.length));
  return bandColors[Math.max(0, Math.min(bandColors.length - 1, i))];
}
function setTicks(list) {
  return function (scale) { scale.ticks = list.map(v => ({ value: v })); };
}
function label(text, x, y, size, rotate) {
  const el = document.createElement("div");
  el.className = "txt";
  el.textContent = text;
  el.style.left = x + "px";
  el.style.top = y + "px";
  el.style.fontSize = size + "px";
  el.style.transform = "translate(-50%,-50%)" + (rotate ? " rotate(-90deg)" : "");
  document.body.appendChild(el);
}

// panel a
const shotLines = [lineA,lineB,lineC,lineD,lineE,lineF,lineG,lineH,lineI,lineJ,lineK,lineL,lineM,lineN,lineO,lineP,lineQ,lineR,lineS,lineT,lineU,lineV,lineW,lineX,lineY,lineZ,lineAA];
const shots = shotLines.flat();

new Chart(document.getElementById("mapChart"), {
  type: "scatter",
  data: {
    datasets: [
      {
        data: leaderX.map((x, i) => ({ x: x, y: leaderY[i] })),
        showLine: true, tension: 0.4, borderColor: inkColor, borderWidth: 6, pointRadius: 0, clip: false
      },
      {
        data: shots.map(s => ({ x: s[0], y: s[1] })),
        pointRadius: 7.6, pointBorderWidth: 0,
        pointBackgroundColor: shots.map(s => colorForPhase(s[2])),
        clip: false
      }
    ]
  },
  options: {
    responsive: false,
    plugins: {
      title: {
        display: true, text: "Phase residuals for OBS 32 at 5.2 Hz",
        font: { size: 56, weight: "normal", lineHeight: 1.2 }, color: inkColor,
        padding: { top: 27, bottom: 9.8 }
      }
    },
    scales: {
      x: {
        type: "linear", min: -6.36, max: 10,
        afterBuildTicks: setTicks(mapXTicks),
        afterFit: s => { s.height = 130.5; },
        grid: { drawOnChartArea: false, tickLength: -8, tickWidth: 2, tickColor: inkColor },
        border: { color: inkColor, width: 2.5 },
        ticks: { font: { size: 50 }, padding: 20.5, maxRotation: 0, autoSkip: false, callback: v => String(v) }
      },
      y: {
        type: "linear", min: -14, max: 7.5,
        afterBuildTicks: setTicks(mapYTicks),
        afterFit: s => { s.width = 249; },
        grid: { drawOnChartArea: false, tickLength: -10, tickWidth: 2, tickColor: inkColor },
        border: { color: inkColor, width: 2.5 },
        ticks: { font: { size: 50 }, padding: 23, autoSkip: false, callback: v => String(v).replace("-", "\u2212") }
      },
      spare: {
        type: "linear", position: "right", min: 0, max: 1,
        afterFit: s => { s.width = 355; },
        grid: { display: false }, border: { display: false }, ticks: { display: false }
      }
    }
  }
});

// colour bar
const bandStep = 2 * Math.PI / bandColors.length;
new Chart(document.getElementById("barChart"), {
  type: "bar",
  data: {
    labels: [""],
    datasets: bandColors.map((c, i) => ({
      data: [[Math.PI - (i + 1) * bandStep, Math.PI - i * bandStep]],
      backgroundColor: c, borderWidth: 0, grouped: false, barPercentage: 1, categoryPercentage: 1
    }))
  },
  options: {
    responsive: false,
    layout: { padding: { top: 103, bottom: 129 } },
    scales: {
      x: { display: false },
      y: {
        type: "linear", position: "right", min: -Math.PI, max: Math.PI,
        afterBuildTicks: setTicks(phaseTicks),
        afterFit: s => { s.width = 131; },
        grid: { drawOnChartArea: false, tickLength: -9, tickWidth: 2, tickColor: inkColor, z: 1 },
        border: { color: inkColor, width: 2.5, z: 1 },
        ticks: { font: { size: 50 }, padding: 19, crossAlign: "near", autoSkip: false, callback: v => String(v).replace("-", "\u2212") }
      },
      yLeft: {
        type: "linear", position: "left", min: -Math.PI, max: Math.PI,
        afterBuildTicks: setTicks(phaseTicks),
        afterFit: s => { s.width = 15; },
        grid: { drawOnChartArea: false, tickLength: -9, tickWidth: 2, tickColor: inkColor, z: 1 },
        border: { color: inkColor, width: 2.5, z: 1 },
        ticks: { padding: 0, font: { size: 1 }, autoSkip: false, callback: () => "" }
      }
    }
  }
});

// panel b
const pickHalfWidth = 0.47;
const timeTop = 5.029, timeBottom = 3.234;

// straight tails above the first and below the last knot
function traceData(id, times, amps) {
  const last = amps.length - 1;
  const pts = [{ x: id, y: timeTop }, { x: id, y: times[0] + 0.03 }];
  times.forEach((t, i) => pts.push({ x: id - amps[i], y: t }));
  if (times[last] - 0.03 > timeBottom) pts.push({ x: id - amps[last], y: times[last] - 0.03 });
  pts.push({ x: id - amps[last], y: timeBottom });
  return pts;
}
const waveSets = [];
eventIds.forEach((id, i) => {
  waveSets.push({ data: traceData(id, synTime[i], synAmp[i]), borderColor: synColor, order: 1 });
  waveSets.push({ data: traceData(id, obsTime[i], obsAmp[i]), borderColor: obsColor, order: 2 });
});
const pickSets = pickTimes.map((t, i) => ({
  data: [{ x: eventIds[i] + pickHalfWidth, y: t }, { x: eventIds[i] - pickHalfWidth, y: t }],
  borderColor: inkColor, borderWidth: 3, showLine: true, pointRadius: 0, order: 0, tension: 0
}));

const legendBox = {
  id: "legendBox",
  afterDraw(chart) {
    const ctx = chart.ctx, a = chart.chartArea;
    const bx = a.right - 395, by = a.top + 15.5, bw = 377, bh = 140;
    ctx.save();
    ctx.fillStyle = "#fff";
    ctx.fillRect(bx, by, bw, bh);
    ctx.strokeStyle = inkColor;
    ctx.lineWidth = 6;
    ctx.strokeRect(bx, by, bw, bh);
    ctx.font = "50px " + fontName;
    ctx.textBaseline = "alphabetic";
    [obsColor, synColor].forEach((c, i) => {
      const ly = by + 44 + i * 54;
      ctx.strokeStyle = c;
      ctx.lineWidth = 5;
      ctx.beginPath();
      ctx.moveTo(bx + 25, ly);
      ctx.lineTo(bx + 110, ly);
      ctx.stroke();
      ctx.fillStyle = inkColor;
      ctx.fillText(legendLabels[i], bx + 135, by + 56 + i * 61);
    });
    ctx.restore();
  }
};

new Chart(document.getElementById("waveChart"), {
  type: "scatter",
  data: { datasets: waveSets.concat(pickSets) },
  options: {
    responsive: false,
    elements: { line: { borderWidth: 4.5, tension: 0.45 }, point: { radius: 0 } },
    datasets: { scatter: { showLine: true } },
    plugins: {
      title: {
        display: true, text: "Field and synthetic data comparison - OBS 32, shotline 26",
        font: { size: 56, weight: "normal", lineHeight: 1.2 }, color: inkColor,
        padding: { top: 27, bottom: 31.3 }
      }
    },
    scales: {
      x: {
        type: "linear", reverse: true, min: 26082.32, max: 26100.65,
        afterBuildTicks: setTicks(eventTicks),
        afterFit: s => { s.height = 197; },
        grid: { drawOnChartArea: false, drawTicks: false },
        border: { color: inkColor, width: 5, z: 1 },
        ticks: { font: { size: 50 }, padding: 13, maxRotation: 0, autoSkip: false, callback: v => String(v) }
      },
      xTop: {
        type: "linear", position: "top", reverse: true, min: 26082.32, max: 26100.65,
        afterFit: s => { s.height = 0; },
        grid: { drawOnChartArea: false, drawTicks: false },
        border: { color: inkColor, width: 5, z: 1 },
        ticks: { display: false }
      },
      y: {
        type: "linear", min: timeBottom, max: timeTop,
        afterBuildTicks: setTicks(timeTicks),
        afterFit: s => { s.width = 119.4; },
        grid: { drawOnChartArea: false, tickLength: 14, tickWidth: 5, tickColor: inkColor },
        border: { color: inkColor, width: 4, z: 1 },
        ticks: { font: { size: 50 }, padding: 19, autoSkip: false, callback: v => String(v) }
      },
      yRight: {
        type: "linear", position: "right", min: timeBottom, max: timeTop,
        afterBuildTicks: setTicks(timeTicks),
        afterFit: s => { s.width = 100.5; },
        grid: { drawOnChartArea: false, tickLength: 14, tickWidth: 5, tickColor: inkColor },
        border: { color: inkColor, width: 4, z: 1 },
        ticks: { padding: 0, font: { size: 1 }, autoSkip: false, callback: () => "" }
      }
    }
  },
  plugins: [legendBox]
});

// loose text around the panels
label("a)", 92, 122, 43);
label("b)", 1320, 122, 45);
label("shotline 26", 435, 128, 48);
label("Distance (km)", 627, 1157, 54.5);
label("Distance (km)", 111, 594, 54.5, true);
label("Phase (rad)", 1182, 602, 47, true);
label("Time (s)", 1315, 589, 52, true);
label("Event ID", 2464, 1095, 50);
label("us", 28, 325, 62);
label("ed", 15, 402, 62);
label("r", 8, 892, 62);
label("en", 28, 972, 62);
</script>
</body>
</html>
